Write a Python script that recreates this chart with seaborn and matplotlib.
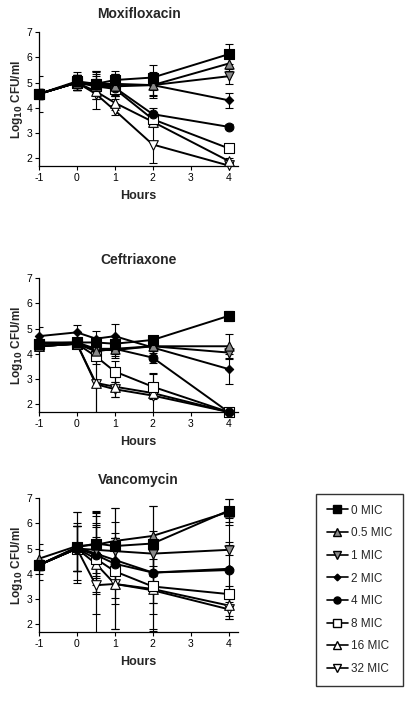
import matplotlib
matplotlib.use("Agg")
import matplotlib.pyplot as plt
from matplotlib.lines import Line2D
import numpy as np
import pandas as pd
import seaborn as sns


sns.set_theme(style="ticks")
plt.rcParams["font.family"] = ["Liberation Sans", "DejaVu Sans"]
plt.rcParams["axes.unicode_minus"] = False
plt.rcParams["mathtext.default"] = "bf"

HOURS = [-1, 0, 0.5, 1, 2, 4]
CONCS = ["0 MIC", "0.5 MIC", "1 MIC", "2 MIC", "4 MIC", "8 MIC", "16 MIC", "32 MIC"]
PANELS = ["Moxifloxacin", "Ceftriaxone", "Vancomycin"]

# mean log10 CFU/ml, one row per concentration
MOXI_MEAN = [
    [4.55, 5.05, 4.95, 5.10, 5.20, 6.12],
    [4.55, 5.00, 4.90, 4.85, 4.90, 5.75],
    [4.55, 5.00, 4.95, 4.90, 4.90, 5.25],
    [4.55, 5.00, 4.95, 4.95, 4.90, 4.30],
    [4.55, 5.00, 4.90, 4.80, 3.75, 3.25],
    [4.55, 5.00, 4.85, 4.75, 3.55, 2.40],
    [4.55, 5.00, 4.65, 4.20, 3.45, 1.90],
    [4.55, 5.00, 4.55, 3.90, 2.55, 1.72],
]
MOXI_SD = [
    [0.70, 0.35, 0.45, 0.35, 0.50, 0.40],
    [0.20, 0.30, 0.55, 0.50, 0.40, 0.30],
    [0.20, 0.30, 0.50, 0.45, 0.45, 0.30],
    [0.20, 0.30, 0.40, 0.40, 0.50, 0.30],
    [0.20, 0.30, 0.35, 0.35, 0.25, 0.10],
    [0.20, 0.30, 0.30, 0.30, 0.20, 0.10],
    [0.20, 0.30, 0.30, 0.30, 0.20, 0.10],
    [0.20, 0.30, 0.60, 0.20, 0.75, 0.10],
]

CEF_MEAN = [
    [4.40, 4.45, 4.45, 4.40, 4.55, 5.50],
    [4.30, 4.40, 4.10, 4.20, 4.30, 4.30],
    [4.30, 4.40, 4.15, 4.15, 4.30, 4.05],
    [4.70, 4.85, 4.60, 4.70, 4.25, 3.40],
    [4.45, 4.45, 4.20, 4.20, 3.85, 1.70],
    [4.40, 4.40, 3.90, 3.30, 2.70, 1.70],
    [4.30, 4.40, 2.85, 2.70, 2.45, 1.70],
    [4.30, 4.40, 2.80, 2.60, 2.35, 1.70],
]
CEF_SD = [
    [0.10, 0.10, 0.10, 0.10, 0.10, 0.20],
    [0.10, 0.10, 0.30, 0.30, 0.20, 0.50],
    [0.10, 0.10, 0.30, 0.30, 0.20, 0.20],
    [0.35, 0.30, 0.30, 0.50, 0.30, 0.60],
    [0.10, 0.10, 0.20, 0.20, 0.20, 0.05],
    [0.10, 0.10, 0.30, 0.40, 0.50, 0.05],
    [0.10, 0.10, 1.30, 0.40, 0.80, 0.05],
    [0.10, 0.10, 1.20, 0.30, 0.10, 0.05],
]

VANCO_MEAN = [
    [4.35, 5.05, 5.20, 5.10, 5.20, 6.50],
    [4.60, 5.10, 5.15, 5.30, 5.50, 6.45],
    [4.35, 5.00, 4.95, 4.90, 4.80, 4.95],
    [4.35, 5.05, 4.80, 4.55, 4.05, 4.20],
    [4.35, 5.00, 4.75, 4.40, 4.05, 4.15],
    [4.35, 5.00, 4.60, 4.10, 3.50, 3.20],
    [4.35, 5.00, 4.40, 3.60, 3.40, 2.75],
    [4.35, 5.00, 3.55, 3.60, 3.35, 2.60],
]
VANCO_SD = [
    [0.60, 1.40, 1.30, 1.50, 1.50, 0.45],
    [0.60, 1.35, 1.30, 1.30, 1.20, 0.50],
    [0.20, 0.90, 0.90, 0.70, 0.90, 0.20],
    [0.20, 0.95, 1.50, 1.50, 1.20, 2.00],
    [0.20, 0.90, 1.20, 1.00, 1.20, 1.10],
    [0.20, 0.90, 1.40, 1.30, 1.10, 0.30],
    [0.20, 0.90, 2.00, 1.80, 1.60, 0.40],
    [0.20, 0.90, 1.90, 1.80, 1.60, 0.40],
]

GRAY = "#8a8a8a"
FILL = {
    "0 MIC": "black", "0.5 MIC": GRAY, "1 MIC": GRAY, "2 MIC": "black",
    "4 MIC": "black", "8 MIC": "white", "16 MIC": "white", "32 MIC": "white",
}
MARKER = {
    "0 MIC": "s", "0.5 MIC": "^", "1 MIC": "v", "2 MIC": "D",
    "4 MIC": "o", "8 MIC": "s", "16 MIC": "^", "32 MIC": "v",
}
SIZE = {
    "0 MIC": 42, "0.5 MIC": 44, "1 MIC": 44, "2 MIC": 18,
    "4 MIC": 40, "8 MIC": 42, "16 MIC": 48, "32 MIC": 48,
}


def long_frame(means, sds):
    rows = []
    for conc, m_row, s_row in zip(CONCS, means, sds):
        for h, m, s in zip(HOURS, m_row, s_row):
            rows.append({"hours": h, "cfu": m, "sd": s, "conc": conc})
    return pd.DataFrame(rows)


def draw_panel(ax, df, title):
    for conc in CONCS:
        sub = df[df["conc"] == conc]
        ax.errorbar(sub["hours"], sub["cfu"], yerr=sub["sd"], fmt="none",
                    ecolor="black", elinewidth=0.8, capsize=3.2, capthick=0.8,
                    zorder=1)
    sns.lineplot(data=df, x="hours", y="cfu", units="conc", estimator=None,
                 color="black", lw=1.4, ax=ax, zorder=2, legend=False)
    for conc in CONCS[::-1]:
        sub = df[df["conc"] == conc]
        sns.scatterplot(data=sub, x="hours", y="cfu", marker=MARKER[conc],
                        s=SIZE[conc], color=FILL[conc], edgecolor="black",
                        linewidth=0.8, ax=ax, zorder=3, legend=False,
                        clip_on=False)
    ax.set_xlim(-1, 4.25)
    ax.set_ylim(1.7, 7.0)
    ax.set_xticks([-1, 0, 1, 2, 3, 4])
    ax.set_yticks([2, 3, 4, 5, 6, 7])
    ax.tick_params(labelsize=7.5, length=3, width=0.8, pad=2, colors="black")
    for side in ["top", "right"]:
        ax.spines[side].set_visible(False)
    for side in ["left", "bottom"]:
        ax.spines[side].set_linewidth(0.9)
        ax.spines[side].set_color("black")
    ax.set_title(title, fontsize=10, fontweight="bold", pad=10)
    ax.set_xlabel("Hours", fontsize=9, fontweight="bold", labelpad=5)
    ax.set_ylabel("Log$_{10}$ CFU/ml", fontsize=8.5, fontweight="bold", labelpad=1)


fig = plt.figure(figsize=(4.11, 7.01), dpi=100)
fig.patch.set_facecolor("white")
ax_w = 199 / 411
ax_h = 134 / 701
bottoms = [1 - 166 / 701, 1 - 412 / 701, 1 - 632 / 701]
data = [(MOXI_MEAN, MOXI_SD), (CEF_MEAN, CEF_SD), (VANCO_MEAN, VANCO_SD)]

for title, bottom, (means, sds) in zip(PANELS, bottoms, data):
    ax = fig.add_axes([39 / 411, bottom, ax_w, ax_h])
    draw_panel(ax, long_frame(means, sds), title)

handles = [
    Line2D([], [], color="black", lw=1.2, marker=MARKER[c],
           markerfacecolor=FILL[c], markeredgecolor="black",
           markersize=np.sqrt(SIZE[c]) * 0.8)
    for c in CONCS
]
leg = fig.legend(handles, CONCS, loc="upper left",
                 bbox_to_anchor=(316 / 411, 1 - 494 / 701),
                 frameon=True, fancybox=False, fontsize=8.5,
                 handlelength=1.8, handletextpad=0.25, labelspacing=0.9,
                 borderpad=0.9, borderaxespad=0)
leg.get_frame().set_edgecolor("black")
leg.get_frame().set_linewidth(1.0)

fig.savefig("out.png", dpi=100)
